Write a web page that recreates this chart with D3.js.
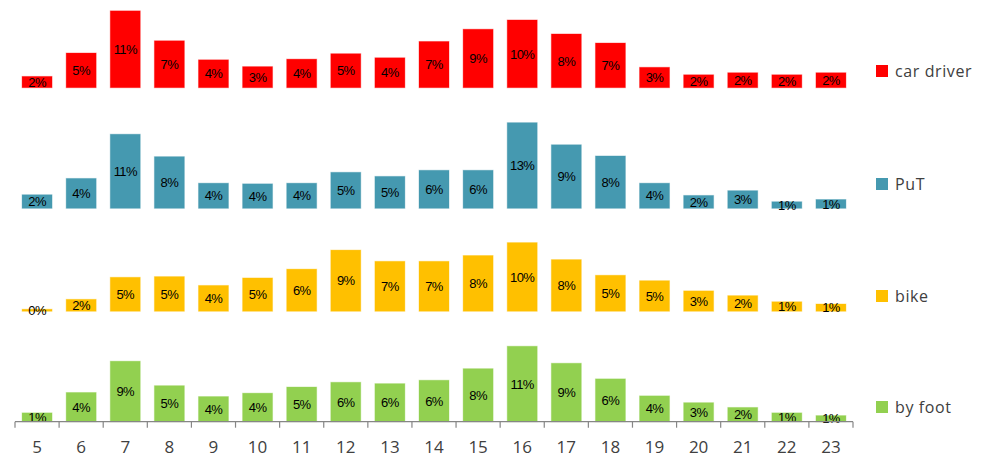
<!DOCTYPE html>
<html>
<head>
<meta charset="utf-8">
<script src="https://cdn.jsdelivr.net/npm/d3@7"></script>
<style>
  html, body { margin: 0; padding: 0; background: #fff; }
  svg { display: block; }
</style>
</head>
<body>
<svg id="chart" width="997" height="459"></svg>
<script>
// ---- data ----
const hours = ["5","6","7","8","9","10","11","12","13","14","15","16","17","18","19","20","21","22","23"];
const seriesNames = ["car driver", "PuT", "bike", "by foot"];
const carDriver = [1.66, 5.1, 11.3, 6.9, 4.1, 3.1, 4.2, 5.0, 4.4, 6.8, 8.6, 9.96, 7.9, 6.57, 3.0, 1.9, 2.2, 1.9, 2.2];
const put       = [2.0, 4.4, 10.9, 7.6, 3.7, 3.6, 3.7, 5.3, 4.7, 5.6, 5.6, 12.6, 9.35, 7.7, 3.7, 1.9, 2.6, 0.97, 1.3];
const bike      = [0.3, 1.76, 5.0, 5.1, 3.8, 4.9, 6.2, 9.0, 7.35, 7.35, 8.2, 10.1, 7.6, 5.3, 4.5, 3.0, 2.3, 1.4, 1.07];
const byFoot    = [1.3, 4.3, 8.9, 5.3, 3.7, 4.2, 5.1, 5.8, 5.6, 6.1, 7.8, 11.1, 8.6, 6.3, 3.8, 2.8, 2.1, 1.3, 0.9];
// stacked spacer offsets (in %) for each row, as in the original stacked layout
const rowOffsets = [49.12, 31.38, 16.24, 0];
const colors = ["#FF0000", "#4599B0", "#FFC000", "#92D050"];

const allSeries = [carDriver, put, bike, byFoot];

// ---- layout ----
const svg = d3.select("#chart");
const x = d3.scaleBand().domain(hours).range([15, 853]).paddingInner(0.32).paddingOuter(0.16);
const y = d3.scaleLinear().domain([0, 60.4]).range([421.7, 11]);

const fmt = v => Math.round(v) + "%";

allSeries.forEach((vals, si) => {
  const off = rowOffsets[si];
  const g = svg.append("g");
  g.selectAll("rect").data(vals).join("rect")
    .attr("x", (d, i) => x(hours[i]))
    .attr("width", x.bandwidth())
    .attr("y", d => y(off + d))
    .attr("height", d => y(off) - y(off + d))
    .attr("fill", colors[si])
    .attr("stroke", colors[si])
    .attr("stroke-opacity", 0.35)
    .attr("stroke-width", 1);
  g.selectAll("text").data(vals).join("text")
    .attr("x", (d, i) => x(hours[i]) + x.bandwidth() / 2)
    .attr("y", d => y(off + d / 2))
    .attr("dy", "0.36em")
    .attr("text-anchor", "middle")
    .attr("font-family", "'Liberation Sans', Arial, sans-serif")
    .attr("font-size", 13)
    .attr("letter-spacing", "-0.6px")
    .attr("fill", "#000")
    .text(d => fmt(d));

  // legend
  const legendY = [71, 184, 296, 407][si];
  svg.append("rect")
    .attr("x", 876).attr("y", legendY - 6)
    .attr("width", 12).attr("height", 12)
    .attr("fill", colors[si]);
  svg.append("text")
    .attr("x", 895).attr("y", legendY)
    .attr("dy", "0.35em")
    .attr("font-family", "'Open Sans', 'Liberation Sans', sans-serif")
    .attr("font-size", 16)
    .attr("letter-spacing", "0.6px")
    .attr("fill", "#404040")
    .text(seriesNames[si]);
});

// ---- x axis ----
const axisG = svg.append("g").attr("transform", `translate(0,${y(0)})`);
axisG.append("line")
  .attr("x1", 15).attr("x2", 853).attr("y1", 0).attr("y2", 0)
  .attr("stroke", "#868686").attr("stroke-width", 1.2);
const boundaries = hours.map(h => x(h) - x.step() * x.paddingInner() / 2);
boundaries.push(853);
boundaries[0] = 15;
axisG.selectAll("line.tick").data(boundaries).join("line")
  .attr("class", "tick")
  .attr("x1", d => d).attr("x2", d => d)
  .attr("y1", 0).attr("y2", 6)
  .attr("stroke", "#868686").attr("stroke-width", 1.2);
axisG.selectAll("text").data(hours).join("text")
  .attr("x", h => x(h) + x.bandwidth() / 2)
  .attr("y", 31.5)
  .attr("text-anchor", "middle")
  .attr("font-family", "'Open Sans', 'Liberation Sans', sans-serif")
  .attr("font-size", 17)
  .attr("fill", "#404040")
  .text(h => h);
</script>
</body>
</html>
